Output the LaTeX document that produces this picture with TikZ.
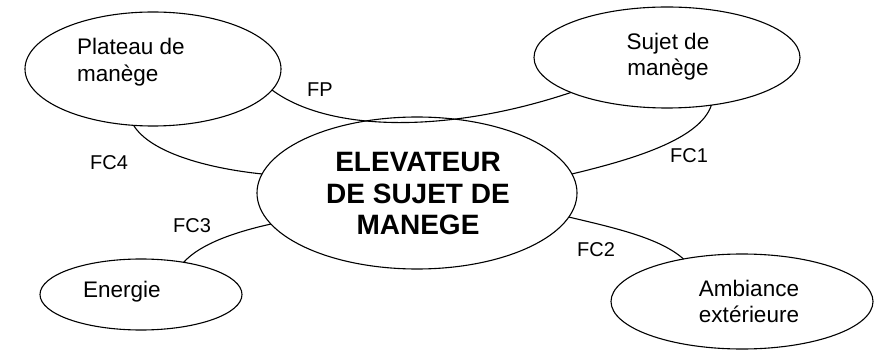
\documentclass[tikz,border=0pt]{standalone}
\usepackage{fontspec}
\setmainfont{Liberation Sans}
\usetikzlibrary{shapes.geometric}
\begin{document}
\begin{tikzpicture}[x=1pt,y=-1pt,
  oval/.style={draw, ellipse, inner sep=0pt, outer sep=0pt, line width=1.1pt},
  txt/.style={font=\fontsize{22.5}{26}\selectfont, inner sep=0pt},
  lbl/.style={font=\fontsize{20}{24}\selectfont, inner sep=0pt},
  big/.style={font=\fontsize{28}{32}\bfseries\selectfont, inner sep=0pt},
  link/.style={line width=1.1pt}]
\useasboundingbox (0,0) rectangle (874,352);
% ellipses
\node[oval, minimum width=256pt, minimum height=114pt] (plat) at (153,69) {};
\node[oval, minimum width=266pt, minimum height=101pt] (suj) at (667,57.5) {};
\node[oval, minimum width=320pt, minimum height=152pt] (cen) at (417,193) {};
\node[oval, minimum width=202pt, minimum height=71pt] (ene) at (141,294.5) {};
\node[oval, minimum width=262pt, minimum height=95pt] (amb) at (742,301.5) {};
% texts
\node[txt, anchor=base west] (t1a) at (77,55) {Plateau de};
\node[txt, anchor=base west] (t1b) at (77,82) {manège};
\node[txt, anchor=base] (t2a) at (668,50) {Sujet de};
\node[txt, anchor=base] (t2b) at (668,76) {manège};
\node[big, anchor=base] (c1) at (418,172) {ELEVATEUR};
\node[big, anchor=base] (c2) at (418,203.5) {DE SUJET DE};
\node[big, anchor=base] (c3) at (418,235) {MANEGE};
\node[txt, anchor=base west] (t4) at (83,297) {Energie};
\node[txt, anchor=base] (t5a) at (749,296) {Ambiance};
\node[txt, anchor=base] (t5b) at (749,322) {extérieure};
% connectors
\draw[link] (plat.-10) .. controls (330,133) and (450,133) .. (suj.-160.8);
\draw[link] (plat.-109.7) .. controls (150,152) and (205,168) .. (cen.173.5);
\draw[link] (suj.-47.2) .. controls (700,140) and (630,160) .. (cen.7.3);
\draw[link] (cen.-9.4) .. controls (615,228) and (660,238) .. (amb.144.7);
\draw[link] (cen.-168.7) .. controls (235,232) and (200,244) .. (ene.37.7);
% labels
\node[lbl, anchor=base west] (fp) at (307,97) {FP};
\node[lbl, anchor=base west] (fc4) at (90,170) {FC4};
\node[lbl, anchor=base west] (fc1) at (670,163) {FC1};
\node[lbl, anchor=base west] (fc3) at (173,233) {FC3};
\node[lbl, anchor=base west] (fc2) at (577,257) {FC2};
\end{tikzpicture}
\end{document}
